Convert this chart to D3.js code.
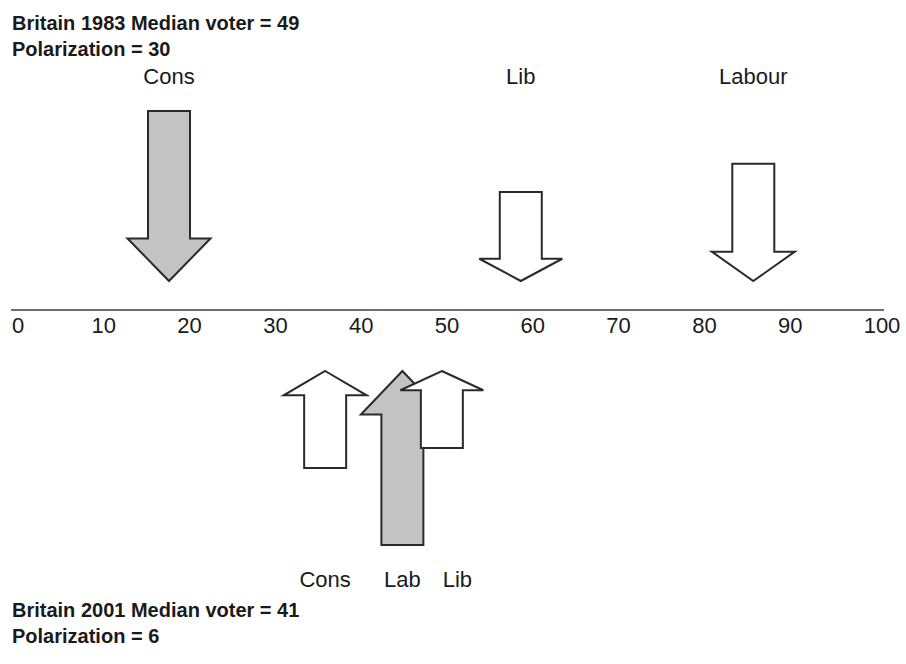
<!DOCTYPE html>
<html>
<head>
<meta charset="utf-8">
<script src="https://cdn.jsdelivr.net/npm/d3@7"></script>
<style>
  body { margin: 0; background: #fff; }
  text { font-family: "Liberation Sans", Arial, Helvetica, sans-serif; fill: #1a1a1a; }
</style>
</head>
<body>
<div id="viz"></div>
<script>
// left-right scale ticks
const ticks = [0, 10, 20, 30, 40, 50, 60, 70, 80, 90, 100];

// 1983 (arrows above the line, pointing down)
const parties1983 = ["Cons", "Lib", "Labour"];
const position1983 = [17.6, 58.6, 85.7];
const size1983 = [42, 22, 29];
const shaded1983 = ["Cons"];
const title1983 = ["Britain 1983 Median voter = 49", "Polarization = 30"];

// 2001 (arrows below the line, pointing up)
const parties2001 = ["Cons", "Lab", "Lib"];
const position2001 = [35.8, 44.8, 49.4];
const size2001 = [24, 43, 19];
const shaded2001 = ["Lab"];
const title2001 = ["Britain 2001 Median voter = 41", "Polarization = 6"];

const W = 906, H = 664;
const svg = d3.select("#viz").append("svg")
  .attr("width", W)
  .attr("height", H);

const x = d3.scaleLinear().domain([0, 100]).range([18, 876]);
const len = d3.scaleLinear().domain([0, 43]).range([0, 174]);

const axisY = 310;

// axis line + labels
svg.append("line")
  .attr("x1", x.range()[0] - 7)
  .attr("x2", x.range()[1] + 8)
  .attr("y1", axisY).attr("y2", axisY)
  .attr("stroke", "#6e6e6e")
  .attr("stroke-width", 2);

svg.selectAll("text.tick")
  .data(ticks)
  .enter()
  .append("text")
  .attr("class", "tick")
  .attr("x", d => x(d) + (d === 100 ? 6 : 0))
  .attr("y", 333)
  .attr("text-anchor", "middle")
  .style("font-size", "22px")
  .text(d => d);

// arrow shape, dir = 1 points down, -1 points up
function arrowPath(cx, tipY, L, dir) {
  const h = L * 0.25, shaft = 21, wing = 41.5;
  const pts = [
    [cx, tipY],
    [cx + wing, tipY - dir * h],
    [cx + shaft, tipY - dir * h],
    [cx + shaft, tipY - dir * L],
    [cx - shaft, tipY - dir * L],
    [cx - shaft, tipY - dir * h],
    [cx - wing, tipY - dir * h]
  ];
  return d3.line()(pts) + "Z";
}

function drawYear(parties, positions, sizes, shaded, dir, tipY, labelY) {
  const data = parties.map((p, i) => ({party: p, pos: positions[i], size: sizes[i]}));
  const g = svg.append("g");

  g.selectAll("path")
    .data(data)
    .enter()
    .append("path")
    .attr("d", d => arrowPath(x(d.pos), tipY, len(d.size), dir))
    .attr("fill", d => shaded.includes(d.party) ? "#c3c3c3" : "#fff")
    .attr("stroke", "#2a2a2a")
    .attr("stroke-width", 2)
    .attr("stroke-linejoin", "miter");

  // labels centred on arrows, nudged right if too close to the previous one
  const labels = g.selectAll("text")
    .data(data)
    .enter()
    .append("text")
    .attr("y", labelY)
    .style("font-size", "22px")
    .text(d => d.party);

  let prevRight = -Infinity;
  labels.each(function (d) {
    const w = this.getComputedTextLength();
    let left = x(d.pos) - w / 2;
    if (left < prevRight + 22) left = prevRight + 22;
    d3.select(this).attr("x", left);
    prevRight = left + w;
  });
}

drawYear(parties1983, position1983, size1983, shaded1983, 1, 281, 84);
drawYear(parties2001, position2001, size2001, shaded2001, -1, 371, 587);

function drawTitle(lines, y0) {
  svg.append("g").selectAll("text")
    .data(lines)
    .enter()
    .append("text")
    .attr("x", 12)
    .attr("y", (d, i) => y0 + i * 26)
    .style("font-size", "20px")
    .style("font-weight", "bold")
    .text(d => d);
}

drawTitle(title1983, 30);
drawTitle(title2001, 617);
</script>
</body>
</html>
